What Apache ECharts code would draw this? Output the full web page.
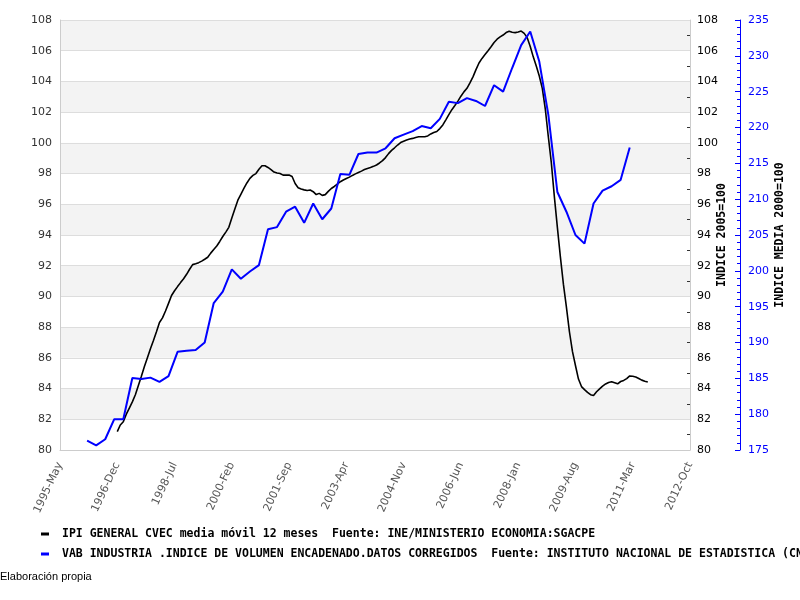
<!DOCTYPE html>
<html><head><meta charset="utf-8">
<script src="https://cdn.jsdelivr.net/npm/echarts/dist/echarts.min.js"></script>
<style>html,body{margin:0;padding:0;background:#fff}#c{width:800px;height:600px}</style>
</head><body><div id="c"></div>
<script>
// Month index 0 = 1995-May; ticks every 19 months
const xTickLabels = ['1995-May','1996-Dec','1998-Jul','2000-Feb','2001-Sep','2003-Apr','2004-Nov','2006-Jun','2008-Jan','2009-Aug','2011-Mar','2012-Oct'];
const monthsSpan = 209;

const ipiName = 'IPI GENERAL CVEC media móvil 12 meses  Fuente: INE/MINISTERIO ECONOMIA:SGACPE';
const vabName = 'VAB INDUSTRIA .INDICE DE VOLUMEN ENCADENADO.DATOS CORREGIDOS  Fuente: INSTITUTO NACIONAL DE ESTADISTICA (CNTR)';

// IPI: monthly, first value at month index 19 (1996-Dec)
const ipiStart = 19;
const ipiValues = [
  81.2, 81.63, 81.84, 82.33, 82.73, 83.13, 83.6, 84.2, 84.8, 85.43,
  86.0, 86.59, 87.13, 87.7, 88.3, 88.6, 89.05, 89.55, 90.06, 90.37,
  90.64, 90.9, 91.15, 91.44, 91.77, 92.07, 92.13, 92.2, 92.3, 92.42,
  92.55, 92.82, 93.06, 93.28, 93.58, 93.9, 94.19, 94.5, 95.1, 95.7,
  96.27, 96.65, 97.03, 97.39, 97.69, 97.88, 98.0, 98.28, 98.51, 98.51,
  98.4, 98.26, 98.1, 98.04, 98.0, 97.9, 97.9, 97.91, 97.81, 97.35,
  97.08, 96.99, 96.94, 96.9, 96.93, 96.82, 96.63, 96.71, 96.58, 96.63,
  96.84, 97.03, 97.16, 97.32, 97.47, 97.58, 97.68, 97.77, 97.88, 97.98,
  98.07, 98.16, 98.26, 98.33, 98.39, 98.47, 98.56, 98.69, 98.84, 99.04,
  99.3, 99.51, 99.68, 99.86, 100.02, 100.11, 100.19, 100.25, 100.29, 100.35,
  100.4, 100.4, 100.4, 100.45, 100.58, 100.67, 100.74, 100.93, 101.17, 101.5,
  101.84, 102.16, 102.43, 102.72, 103.04, 103.32, 103.55, 103.9, 104.3, 104.77,
  105.2, 105.5, 105.75, 106.0, 106.26, 106.53, 106.75, 106.9, 107.02, 107.18,
  107.27, 107.2, 107.18, 107.22, 107.28, 107.13, 106.85, 106.28, 105.6, 105.0,
  104.35, 103.55, 102.2, 100.4, 98.7, 96.5, 94.5, 92.58, 90.8, 89.3,
  87.7, 86.42, 85.5, 84.62, 84.13, 83.93, 83.75, 83.6, 83.55, 83.79,
  83.98, 84.16, 84.3, 84.4, 84.45, 84.38, 84.31, 84.46, 84.53, 84.65,
  84.82, 84.8, 84.75, 84.66, 84.55, 84.48, 84.43
];

// VAB: quarterly, first value at month index 9 (1996-Feb), every 3 months
const vabStart = 9;
const vabStep = 3;
const vabValues = [
  176.3, 175.65, 176.5, 179.3, 179.3, 185.05, 184.9, 185.1, 184.5, 185.3,
  188.7, 188.85, 188.95, 190.0, 195.5, 197.1, 200.2, 198.9, 199.9, 200.8,
  205.8, 206.1, 208.25, 208.95, 206.7, 209.4, 207.2, 208.7, 213.5, 213.4,
  216.3, 216.5, 216.5, 217.1, 218.5, 219.0, 219.5, 220.2, 219.9, 221.2,
  223.6, 223.4, 224.1, 223.7, 223.0, 225.9, 225.0, 228.3, 231.5, 233.4,
  229.2, 221.8, 211.0, 208.25, 205.0, 203.8, 209.4, 211.2, 211.8, 212.7, 217.2
];

const ipiData = ipiValues.map((v, i) => [ipiStart + i, v]);
const vabData = vabValues.map((v, i) => [vabStart + i * vabStep, v]);

const monoBold = {fontFamily: 'DejaVu Sans Mono', fontWeight: 'bold', fontSize: 11.5, color: '#000'};

const chart = echarts.init(document.getElementById('c'), null, {renderer: 'canvas'});
chart.setOption({
  animation: false,
  backgroundColor: '#fff',
  grid: {left: 60, right: 110, top: 20, bottom: 150, containLabel: false},
  legend: {
    orient: 'vertical', left: 36, top: 523, itemGap: 8,
    icon: 'rect', itemWidth: 8, itemHeight: 3,
    textStyle: Object.assign({}, monoBold, {padding: [0, 0, 0, 8]}),
    data: [ipiName, vabName]
  },
  xAxis: {
    type: 'value', min: 0, max: monthsSpan, interval: 19,
    axisLine: {show: true, lineStyle: {color: '#ccc'}},
    axisTick: {show: false},
    splitLine: {show: false},
    axisLabel: {
      rotate: 65, margin: 13, fontSize: 11, color: '#555', fontFamily: 'DejaVu Sans',
      formatter: v => xTickLabels[Math.round(v / 19)] || ''
    }
  },
  yAxis: [
    {
      type: 'value', position: 'left', min: 80, max: 108, interval: 2,
      axisLine: {show: true, lineStyle: {color: '#ccc'}},
      axisTick: {show: false},
      axisLabel: {fontSize: 11, color: '#333', margin: 8, fontFamily: 'DejaVu Sans'},
      splitLine: {show: true, lineStyle: {color: '#ddd'}},
      splitArea: {show: true, areaStyle: {color: ['#ffffff', '#f3f3f3']}}
    },
    {
      type: 'value', position: 'right', min: 80, max: 108, interval: 2,
      axisLine: {show: true, lineStyle: {color: '#ccc'}},
      axisTick: {show: false, inside: true},
      minorTick: {show: true, splitNumber: 2, length: 3, lineStyle: {color: '#333'}},
      axisLabel: {fontSize: 11, color: '#000', margin: 7, fontFamily: 'DejaVu Sans'},
      splitLine: {show: false},
      name: 'INDICE 2005=100', nameLocation: 'middle', nameRotate: 90, nameGap: 26,
      nameMoveOverlap: false,
      nameTextStyle: monoBold
    },
    {
      type: 'value', position: 'right', offset: 50, min: 175, max: 235, interval: 5,
      axisLine: {show: true, lineStyle: {color: '#0000ff'}},
      axisTick: {show: true, inside: true, length: 5, lineStyle: {color: '#0000ff'}},
      minorTick: {show: true, splitNumber: 5, length: 3, lineStyle: {color: '#0000ff'}},
      axisLabel: {fontSize: 11, color: '#0000ff', margin: 8, fontFamily: 'DejaVu Sans'},
      splitLine: {show: false},
      name: 'INDICE MEDIA 2000=100', nameLocation: 'middle', nameRotate: 90, nameGap: 34,
      nameMoveOverlap: false,
      nameTextStyle: monoBold
    }
  ],
  series: [
    {
      name: ipiName, type: 'line', xAxisIndex: 0, yAxisIndex: 1, data: ipiData,
      showSymbol: false, symbol: 'none',
      lineStyle: {color: '#000', width: 1.6}, itemStyle: {color: '#000'}
    },
    {
      name: vabName, type: 'line', xAxisIndex: 0, yAxisIndex: 2, data: vabData,
      showSymbol: false, symbol: 'none',
      lineStyle: {color: '#0000ff', width: 2}, itemStyle: {color: '#0000ff'}
    }
  ],
  graphic: [{
    type: 'text', left: 0, top: 571,
    style: {text: 'Elaboración propia', font: '11px "Liberation Sans"', fill: '#000'}
  }]
});
</script>
</body></html>
